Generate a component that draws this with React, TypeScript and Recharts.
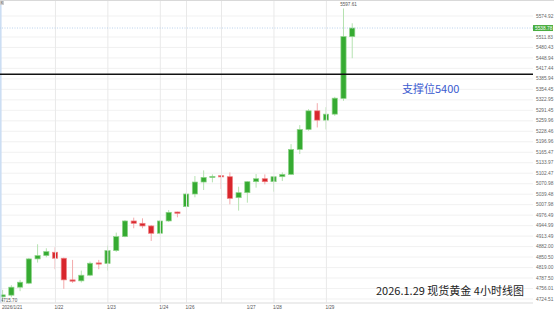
import { ComposedChart, Bar, XAxis, YAxis, CartesianGrid, ReferenceLine } from "recharts";

// 4h candles, 2026/1/21 .. 1/29
const opens = [
  4731, 4736, 4760, 4772, 4845, 4855, 4865, 4847, 4782, 4779, 4796, 4833,
  4831, 4870, 4912, 4959, 4952, 4944, 4922, 4959, 4986, 5002, 5040, 5076,
  5090, 5095, 5092, 5029, 5044, 5077, 5086, 5077, 5092, 5099, 5174, 5234,
  5290, 5262, 5280, 5327, 5513,
];
const highs = [
  4752, 4766, 4782, 4848, 4889, 4877, 4880, 4849, 4842, 4810, 4837, 4842,
  4885, 4924, 4962, 4969, 4967, 4947, 4962, 4992, 4987, 5044, 5094, 5111,
  5099, 5097, 5105, 5062, 5079, 5100, 5099, 5094, 5105, 5190, 5247, 5295,
  5313, 5301, 5332, 5597.61, 5553,
];
const lows = [
  4715.7, 4730, 4748, 4769, 4834, 4850, 4814, 4755, 4773, 4774, 4793, 4814,
  4810, 4866, 4910, 4937, 4937, 4899, 4919, 4956, 4970, 5000, 5030, 5052,
  5075, 5055, 5009, 4990, 5014, 5059, 5069, 5047, 5079, 5097, 5160, 5230,
  5240, 5234, 5275, 5320, 5448,
];
const closes = [
  4737, 4760, 4775, 4845, 4855, 4867, 4847, 4782, 4778, 4796, 4832, 4831,
  4870, 4912, 4959, 4952, 4944, 4922, 4959, 4985, 4982, 5040, 5076, 5090,
  5093, 5092, 5027, 5044, 5077, 5086, 5077, 5092, 5099, 5174, 5234, 5290,
  5262, 5280, 5328, 5513, 5538.78,
];

const dayTicks = [0, 6, 12, 18, 21, 28, 31, 37];
const dayLabels = ["2026/1/21", "1/22", "1/23", "1/24", "1/26", "1/27", "1/28", "1/29"];
const sessionLines = [6, 12, 18, 21, 25, 31, 37];

const priceTicks = [
  5574.92, 5511.83, 5480.43, 5448.94, 5417.44, 5385.94, 5354.45, 5322.95,
  5291.45, 5259.96, 5228.46, 5196.96, 5165.47, 5133.97, 5102.47, 5070.98,
  5039.48, 5007.98, 4976.49, 4944.99, 4913.49, 4882.0, 4850.5, 4819.0,
  4787.5, 4756.01, 4724.51,
];

const supportLevel = 5400;
const supportText = "支撑位5400";
const lastPrice = 5538.78;
const title = "2026.1.29 现货黄金 4小时线图";

const data = opens.map((o, i) => ({
  i,
  open: o,
  high: highs[i],
  low: lows[i],
  close: closes[i],
}));

const maxHigh = Math.max(...highs);
const minLow = Math.min(...lows);

const UP = "#36ab32";
const UP_EDGE = "#8fd48a";
const UP_WICK = "#b5e2b0";
const DOWN = "#d8262c";
const DOWN_EDGE = "#ef7f82";
const DOWN_WICK = "#f3aaac";
const SMALL = "Liberation Sans, Arial, sans-serif";

function Candle(props: any) {
  let { x, y, width, height, payload } = props;
  if (height < 0) {
    y += height;
    height = -height;
  }
  const { open, close, high, low } = payload;
  const up = close >= open;
  const k = height / (high - low);
  const cx = x + width / 2;
  const yO = y + (high - open) * k;
  const yC = y + (high - close) * k;
  const top = Math.min(yO, yC);
  const h = Math.max(Math.abs(yO - yC), 1.2);
  return (
    <g>
      <line x1={cx} x2={cx} y1={y} y2={y + height} stroke={up ? UP_WICK : DOWN_WICK} strokeWidth={1} />
      <rect
        x={x + 0.4}
        y={top}
        width={width - 0.8}
        height={h}
        fill={up ? UP : DOWN}
        stroke={up ? UP_EDGE : DOWN_EDGE}
        strokeWidth={0.7}
      />
      {high === maxHigh && (
        <text x={cx + 5} y={y - 2} fontSize={4.6} fontFamily={SMALL} fill="#555" textAnchor="middle">
          {high.toFixed(2)}
        </text>
      )}
      {low === minLow && (
        <text x={cx - 2} y={y + height + 0.5} fontSize={4.6} fontFamily={SMALL} fill="#555" textAnchor="start">
          {low.toFixed(2)}
        </text>
      )}
    </g>
  );
}

function DateTick(props: any) {
  const { x, payload } = props;
  const idx = dayTicks.indexOf(payload.value);
  return (
    <text x={x - 1} y={308.5} fontSize={4.6} fontFamily={SMALL} fill="#555" textAnchor="start">
      {dayLabels[idx]}
    </text>
  );
}

function PriceTick(props: any) {
  const { y, payload } = props;
  return (
    <text x={536} y={y + 1.6} fontSize={4.8} fontFamily={SMALL} fill="#666" textAnchor="start">
      {Number(payload.value).toFixed(2)}
    </text>
  );
}

export default function App() {
  return (
    <div style={{ position: "absolute", left: 0, top: 0, width: 554, height: 311, background: "#fff" }}>
      <ComposedChart
        width={554}
        height={311}
        data={data}
        margin={{ top: 0, right: 0, bottom: 0, left: 0 }}
        barSize={6}
      >
        <CartesianGrid vertical={false} stroke="#eeeeee" strokeWidth={0.8} />
        <XAxis
          dataKey="i"
          type="number"
          domain={[-0.343, 60.64]}
          ticks={dayTicks}
          tick={<DateTick />}
          tickLine={false}
          axisLine={{ stroke: "#e2e2e2" }}
          height={8}
          interval={0}
          allowDataOverflow
        />
        <YAxis
          orientation="right"
          type="number"
          domain={[4712.5, 5623.0]}
          ticks={priceTicks}
          tick={<PriceTick />}
          tickLine={false}
          axisLine={false}
          width={21}
          allowDataOverflow
          interval={0}
        />
        {sessionLines.map((s) => (
          <ReferenceLine key={s} x={s} stroke="#e9e9e9" strokeWidth={1} />
        ))}
        <ReferenceLine x={-0.25} stroke="#c9dcf3" strokeWidth={1.5} />
        <ReferenceLine
          y={lastPrice}
          stroke="#a9c9ea"
          strokeDasharray="1 1.5"
          strokeWidth={0.8}
          label={(p: any) => {
            const vb = p.viewBox;
            return (
              <g>
                <rect x={vb.x + vb.width} y={vb.y - 3} width={20} height={6} fill="#49ad3f" />
                <text x={vb.x + vb.width + 2} y={vb.y + 1.7} fontSize={4.8} fontFamily={SMALL} fill="#fff">
                  {lastPrice.toFixed(2)}
                </text>
              </g>
            );
          }}
        />
        <ReferenceLine
          y={supportLevel}
          stroke="#111"
          strokeWidth={1.4}
          label={(p: any) => {
            const vb = p.viewBox;
            return (
              <text
                x={vb.x + 402}
                y={vb.y + 19}
                fontSize={11}
                fontFamily="Noto Sans CJK SC, sans-serif"
                fill="#3b5bd0"
              >
                {supportText}
              </text>
            );
          }}
        />
        <Bar dataKey={(d: any) => [d.low, d.high]} shape={<Candle />} isAnimationActive={false} />
      </ComposedChart>
      <div
        style={{
          position: "absolute",
          left: 376,
          top: 283,
          fontSize: 11,
          fontFamily: "Noto Sans CJK SC, sans-serif",
          color: "#222",
          whiteSpace: "nowrap",
          lineHeight: "14px",
        }}
      >
        {title}
      </div>
      <div
        style={{
          position: "absolute",
          left: 0,
          top: 0,
          width: 554,
          height: 1,
          background: "#d9d9d9",
        }}
      />
      <div
        style={{
          position: "absolute",
          left: 0,
          top: 1,
          width: 4,
          height: 4,
          background: "#cfcfcf",
          fontSize: 3,
          lineHeight: "4px",
          textAlign: "center",
          color: "#555",
          fontFamily: SMALL,
        }}
      >
        K
      </div>
    </div>
  );
}
